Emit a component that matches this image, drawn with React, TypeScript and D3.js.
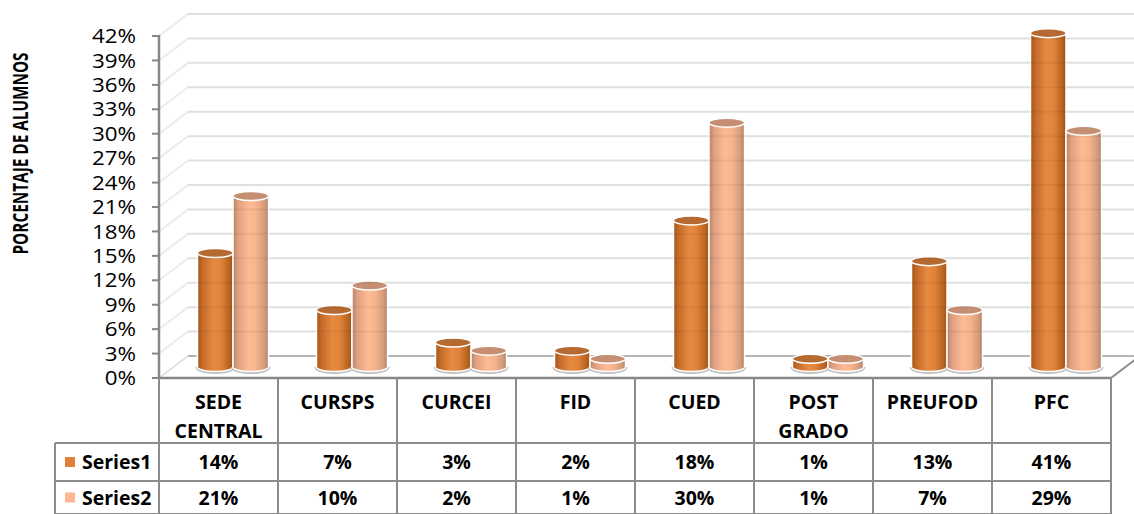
import React from "react";
import * as d3 from "d3";

const categories: string[][] = [["SEDE", "CENTRAL"], ["CURSPS"], ["CURCEI"], ["FID"], ["CUED"], ["POST", "GRADO"], ["PREUFOD"], ["PFC"]];
const series1: number[] = [14, 7, 3, 2, 18, 1, 13, 41];
const series2: number[] = [21, 10, 2, 1, 30, 1, 7, 29];
const seriesNames: string[] = ["Series1", "Series2"];
const yTicks: number[] = [0, 3, 6, 9, 12, 15, 18, 21, 24, 27, 30, 33, 36, 39, 42];
const yTitle = "PORCENTAJE DE ALUMNOS";

const W = 1134;
const H = 514;
const FONT = "'Open Sans', sans-serif";
const DX = 29;
const DY = 22;

const seriesStyle = [
  { stops: ["#a4561b", "#c56c2a", "#e68a42", "#e0843c", "#b8631f", "#9c521a"], top: "#b56a31", key: "#e0823d" },
  { stops: ["#b98468", "#e0a181", "#fdbb94", "#f8b48c", "#d19a7b", "#b07a5e"], top: "#c68f73", key: "#fbb792" },
];

export default function App() {
  const x = d3.scaleBand<number>().domain(d3.range(categories.length)).range([159, 1111]).padding(0);
  const y = d3.scaleLinear().domain([0, 42]).range([378, 36]);
  const cw = 35.5;
  const sub = d3.scaleBand<number>().domain([0, 1]).range([0, cw * 2]).padding(0);
  const data = [series1, series2];
  const rowY = [378, 443, 481, 514];
  const ry = 4.5;

  const cyl = (s: number, i: number) => {
    const v = data[s][i];
    const cx = (x(i) as number) + x.bandwidth() / 2 + DX / 2;
    const left = cx - cw + (sub(s) as number);
    const right = left + cw;
    const base = y(0) - DY / 2;
    const top = base - (y(0) - y(v));
    const rx = cw / 2;
    const body = `M${left},${top} L${left},${base} A${rx},${ry} 0 0 0 ${right},${base} L${right},${top} Z`;
    return (
      <g key={`c${s}-${i}`}>
        <path d={`M${left - 1},${base} A${rx + 1},${ry + 1.5} 0 0 0 ${right + 1},${base}`} fill="none" stroke="#bdbdbd" strokeWidth={2} />
        <path d={body} fill={`url(#grad${s})`} stroke="#fff" strokeWidth={1.5} />
        <ellipse cx={left + rx} cy={top} rx={rx} ry={ry} fill={seriesStyle[s].top} stroke="#fff" strokeWidth={1.5} />
      </g>
    );
  };

  return (
    <svg width={W} height={H} style={{ position: "absolute", left: 0, top: 0, background: "#fff" }} fontFamily={FONT}>
      <defs>
        {seriesStyle.map((st, s) => (
          <linearGradient key={s} id={`grad${s}`} x1="0" x2="1" y1="0" y2="0">
            {st.stops.map((c, k) => (
              <stop key={k} offset={[0, 0.15, 0.45, 0.65, 0.9, 1][k]} stopColor={c} />
            ))}
          </linearGradient>
        ))}
      </defs>

      {/* back wall gridlines */}
      {yTicks.filter((t) => t > 0).map((t) => (
        <path key={`g${t}`} d={`M159,${y(t)} L${159 + DX},${y(t) - DY} L${W + 10},${y(t) - DY}`} fill="none" stroke="#ebebeb" strokeWidth={2} />
      ))}
      {/* floor */}
      <path d={`M159,${y(0)} L${159 + DX},${y(0) - DY}`} stroke="#d9d9d9" strokeWidth={1.5} fill="none" />
      <path d={`M${159 + DX},${y(0) - DY} L${W + 10},${y(0) - DY}`} stroke="#b5b5b5" strokeWidth={2} fill="none" />
      <path d={`M1111,${y(0)} L${1111 + DX},${y(0) - DY}`} stroke="#8c8c8c" strokeWidth={2} fill="none" />

      {/* cylinders */}
      {categories.map((_, i) => [cyl(0, i), cyl(1, i)])}

      {/* grid bands showing through */}
      {yTicks.filter((t) => t > 0).map((t) => (
        <line key={`b${t}`} x1={159 + DX} x2={W} y1={y(t) - DY} y2={y(t) - DY} stroke="#000" strokeOpacity={0.05} strokeWidth={2} />
      ))}

      {/* y axis */}
      <line x1={159} x2={159} y1={y(42) - 1} y2={y(0)} stroke="#868686" strokeWidth={2.5} />
      {yTicks.map((t) => (
        <g key={`t${t}`}>
          <line x1={152} x2={159} y1={y(t)} y2={y(t)} stroke="#868686" strokeWidth={2} />
          <g transform={`translate(136,${y(t)}) scale(1.12,1)`}>
            <text x={0} y={0} dy="0.36em" textAnchor="end" fontSize={20} fill="#000">{`${t}%`}</text>
          </g>
        </g>
      ))}
      <g transform={`translate(28,153.5) rotate(-90) scale(0.73,1)`}>
        <text x={0} y={0} textAnchor="middle" fontSize={21} fontWeight="bold" fill="#000">{yTitle}</text>
      </g>

      {/* table */}
      <line x1={159} x2={1111} y1={rowY[0]} y2={rowY[0]} stroke="#878787" strokeWidth={2.5} />
      {[1, 2, 3].map((r) => (
        <line key={`h${r}`} x1={55} x2={1111} y1={rowY[r]} y2={rowY[r]} stroke="#8c8c8c" strokeWidth={2} />
      ))}
      {d3.range(categories.length + 1).map((k) => {
        const xx = k < categories.length ? (x(k) as number) : 1111;
        return <line key={`v${k}`} x1={xx} x2={xx} y1={rowY[0]} y2={H} stroke="#8c8c8c" strokeWidth={2} />;
      })}
      <line x1={55} x2={55} y1={rowY[1]} y2={H} stroke="#8c8c8c" strokeWidth={2} />

      {categories.map((lines, i) => {
        const cx = (x(i) as number) + x.bandwidth() / 2;
        return (
          <g key={`cat${i}`}>
            {lines.map((ln, j) => (
              <text key={j} x={cx} y={402 + j * 29} dy="0.36em" textAnchor="middle" fontSize={19.5} fontWeight="bold" fill="#000">{ln}</text>
            ))}
            {data.map((d, s) => (
              <text key={`v${s}`} x={cx} y={(rowY[s + 1] + rowY[s + 2]) / 2} dy="0.36em" textAnchor="middle" fontSize={19.5} fontWeight="bold" fill="#000">{`${d[i]}%`}</text>
            ))}
          </g>
        );
      })}
      {seriesNames.map((nm, s) => {
        const cy = (rowY[s + 1] + rowY[s + 2]) / 2;
        return (
          <g key={`lg${s}`}>
            <rect x={65} y={cy - 5} width={10} height={10} fill={seriesStyle[s].key} />
            <text x={82} y={cy} dy="0.36em" fontSize={19.5} fontWeight="bold" fill="#000">{nm}</text>
          </g>
        );
      })}
    </svg>
  );
}
